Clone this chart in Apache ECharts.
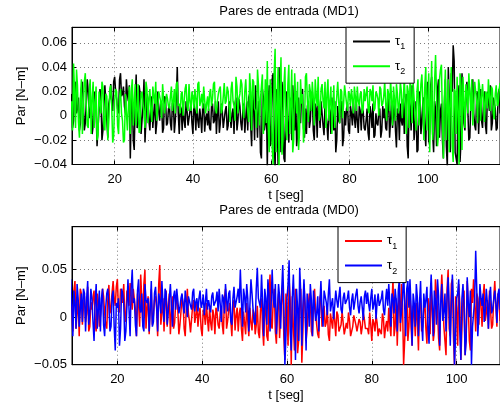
<!DOCTYPE html>
<html><head><meta charset="utf-8">
<script src="https://cdn.jsdelivr.net/npm/echarts@6/dist/echarts.min.js"></script>
<style>html,body{margin:0;padding:0;background:#fff}#c{width:500px;height:406px}</style>
</head><body><div id="c"></div>
<script>
// sampling grid of the recorded signals (seconds): samples "A" at t0 + i*dt, samples "B" half a step later
const t0 = 9, dt = 0.5;

// tick labels
const xTickValues = [20, 40, 60, 80, 100];
const yTicksMD1 = [-0.04, -0.02, 0, 0.02, 0.04, 0.06];
const yTicksMD0 = [-0.05, 0, 0.05];

// MD1 : tau1 (black)
const tau1MD1A = [
.018,-.004,.028,.006,-.012,.022,.01,-.006,.03,-.002,
.012,-.008,.02,-.025,.004,.016,-.012,.025,-.004,.01,
.026,.004,.032,.014,.002,.035,.018,.008,.03,.012,
-.035,.022,-.028,.034,-.006,.018,-.016,.03,-.002,.014,
-.012,.016,.002,-.015,.02,-.004,.01,-.01,.014,-.006,
.008,-.012,.012,-.004,.04,-.015,.006,.01,-.01,.004,
-.008,.01,-.015,.004,.012,-.01,-.002,.008,-.013,.002,
.006,-.012,.01,-.004,-.015,.012,-.006,.004,-.01,.008,
-.008,.012,.002,-.015,.015,-.004,.008,-.012,.01,-.002,
-.012,.018,-.025,.008,.025,-.018,.01,-.035,.015,-.006,
-.042,.025,-.02,.035,-.045,.01,.04,-.03,.018,-.038,
.02,-.022,.008,.025,-.012,-.025,.015,-.006,.022,-.018,
-.015,.012,-.004,.02,-.02,.006,.015,-.01,.002,-.016,
.01,-.02,.004,.015,-.012,-.03,.008,-.006,.012,-.018,
-.008,.01,-.015,.002,.012,-.01,-.004,.008,-.012,.004,
-.012,.006,-.02,.002,.01,-.016,-.006,.004,-.018,.008,
.006,-.012,.015,-.004,-.01,.012,-.026,.004,.01,-.008,
-.015,.018,-.035,.008,.025,-.02,.012,-.028,.02,-.006,
.015,-.025,.028,-.01,.032,-.03,.005,.022,-.018,.01,
-.035,.03,-.042,.015,.035,.058,-.03,-.04,.025,-.02,
.02,-.012,.028,-.02,.01,.03,-.008,.018,-.015,.022,
-.01,.02,-.015,.012,.025,-.006,.015,-.012,.018,.002
];
const tau1MD1B = [
-.01,.024,.002,.015,-.006,.028,-.012,.012,.02,.004,
-.015,.018,.006,-.01,.022,-.02,.008,.012,-.018,.015,
.01,.028,.02,.006,.03,.016,.024,.002,.018,.025,
.005,-.02,.012,-.01,.025,-.015,.008,-.022,.018,-.004,
.008,-.01,.014,-.006,.004,.012,-.014,.016,-.008,.006,
-.006,.01,-.014,.014,.002,.008,-.012,-.004,.012,-.008,
.004,-.006,.01,-.012,-.004,.006,-.014,.01,-.002,-.008,
-.01,.008,-.006,.012,.002,-.014,.01,-.01,.004,-.012,
.012,-.01,.006,.01,-.012,.014,-.006,.004,-.014,.012,
.015,-.008,.02,-.02,.004,.012,-.03,.022,-.012,.018,
.012,-.025,.03,-.015,.022,-.04,.005,.028,-.035,.015,
-.008,.015,-.02,.01,.02,-.015,-.002,.018,-.01,.006,
.008,-.01,.016,-.012,.01,-.018,.004,.012,-.008,.01,
-.008,.008,-.015,-.002,.012,-.02,-.004,.01,-.025,.004,
.006,-.012,.008,-.008,-.002,.01,-.014,.004,.006,-.01,
-.004,-.014,.008,-.01,-.018,.002,-.008,.006,-.012,-.002,
-.01,.008,-.018,.012,.002,-.012,.006,-.02,-.004,.014,
.01,-.025,.015,-.012,.02,-.008,-.03,.018,-.015,.012,
-.012,.018,-.022,.025,-.015,.012,-.025,.03,.004,-.02,
.01,-.025,.04,-.03,.02,.045,-.035,.015,-.038,.035,
-.006,.015,.004,-.018,.025,.002,-.012,.02,.008,-.004,
.012,-.008,.02,.004,-.012,.015,.006,-.01,.022,.008
];
// MD1 : tau2 (green)
const tau2MD1A = [
.012,.043,-.01,.025,-.018,.03,.005,.035,-.008,.02,
-.015,.028,.008,-.02,.02,.002,.024,-.012,.016,-.005,
.025,-.022,.012,.02,-.015,.022,-.004,-.02,.018,.006,
-.015,.03,.01,-.008,.026,-.012,.02,.002,.028,-.006,
.022,-.005,.016,.028,.004,.02,-.002,.026,.01,.014,
.006,.024,.012,.002,.028,.01,.018,0,.022,.008,
.026,.004,.016,.022,.002,.028,.012,.006,.024,.01,
.004,.022,.014,.028,.002,.018,.024,.006,.027,.012,
.02,-.005,.028,.008,.032,.002,.018,.026,-.002,.03,
.012,.035,-.012,.028,.004,.038,-.008,.024,-.015,.03,
.045,-.03,.02,-.04,.055,.005,-.042,.048,-.02,.04,
-.02,.042,.01,-.03,.035,.002,-.028,.03,.018,-.01,
.035,-.005,.02,.028,-.008,.016,.032,0,.026,.006,
-.01,.03,.012,-.015,.025,.004,.028,-.006,.02,.01,
.025,.004,.018,.022,.002,.016,.024,.008,.02,.006,
.012,.024,.002,.02,.025,.006,.018,0,.022,.01,
.028,-.004,.018,.03,-.008,.014,.026,.002,.028,-.002,
.032,-.015,.02,.035,-.006,.028,-.012,.03,.004,.034,
-.02,.04,.012,-.03,.045,-.008,.05,-.025,.03,.042,
-.035,.038,.005,-.03,.04,-.038,.02,.032,-.04,.025,
.032,-.01,.02,.035,.004,-.008,.028,.012,.03,-.004,
.026,-.005,.018,.03,.004,.022,-.003,.025,.01,.027
];
const tau2MD1B = [
-.012,.02,.038,-.005,.015,-.015,.028,.008,-.01,.03,
.015,-.01,.024,-.016,.01,.028,-.008,.018,-.02,.022,
.008,-.016,.022,-.008,.015,.002,-.022,.018,-.012,.024,
.02,-.008,.026,.004,-.014,.018,.01,-.01,.022,.014,
.004,.024,.01,-.004,.02,.012,.026,.002,.018,.008,
.016,.004,.022,.026,.008,.002,.02,.012,.026,.004,
.012,.02,.006,.014,.026,.008,.018,.024,.002,.016,
.018,.008,.026,.006,.012,.022,.002,.016,.01,.024,
.008,.022,.012,-.004,.024,.014,.03,.006,.02,.012,
-.005,.02,.03,.006,-.01,.025,.014,.034,.002,-.006,
-.01,.03,-.025,.035,-.03,.04,.02,-.032,.025,-.012,
.025,-.015,.038,-.02,.015,.028,-.012,.01,-.022,.032,
.012,.026,.004,.015,.03,.008,-.004,.022,.012,.028,
.018,-.004,.024,.008,-.01,.016,.012,.022,-.002,.025,
.01,.02,.008,.014,.024,.004,.012,.018,.002,.022,
.018,.006,.022,.012,.004,.02,.014,.024,.008,.016,
.01,.022,.004,.014,.024,-.004,.018,.01,.02,.012,
.01,.025,-.01,.016,.028,.002,.02,-.008,.026,.012,
.025,-.012,.035,.008,-.02,.028,.015,-.015,.038,-.005,
.015,-.02,.03,.01,-.025,.022,-.015,.005,.035,-.028,
.012,.026,.002,.018,.03,.008,.02,-.006,.024,.015,
.012,.02,.006,.016,.024,.002,.018,.008,.022,.014
];
// MD0 : tau1 (red)
const tau1MD0A = [
.02,-.015,.038,.005,-.02,.025,.012,-.005,.032,-.01,
.008,.028,-.015,.016,-.01,.03,.004,-.012,.034,.01,
.038,.012,.04,.005,.025,.035,-.005,.02,.036,.008,
.028,-.02,.015,.045,-.008,.05,.01,-.018,.03,.002,
.022,-.02,.055,.005,-.015,.028,.012,-.018,.022,-.006,
.02,-.018,.006,.015,-.02,.03,-.004,-.015,.018,.002,
-.01,.01,-.02,.004,.015,-.015,-.006,.008,-.018,.005,
-.012,.012,-.018,.03,-.004,.015,-.02,.018,.002,-.015,
.01,-.025,.004,.015,-.02,-.006,.008,-.018,.012,-.022,
.02,-.03,.006,-.025,.045,-.012,.03,-.028,.025,.002,
.035,-.045,.012,.04,-.05,-.01,.03,-.038,.02,-.048,
.035,-.025,.01,.02,-.02,.03,-.008,-.022,.025,.004,
-.01,.01,-.025,-.004,.008,-.02,.002,-.015,.006,-.018,
-.006,.005,-.02,-.01,.003,-.015,-.002,-.018,.004,-.012,
-.012,.005,-.025,-.006,.002,-.02,-.01,.004,-.022,-.004,
.01,-.02,.04,-.01,-.03,.025,.035,-.05,.008,-.025,
.025,-.03,.004,.015,-.035,.02,-.01,.018,-.028,.012,
.03,-.025,.04,.006,-.035,.045,-.01,-.04,.05,-.02,
.04,-.05,.01,.035,-.045,.02,-.04,.038,-.025,.03,
.04,-.015,.02,.03,-.01,.035,.004,-.012,.028,-.008,
.038,-.01,.02,.03
];
const tau1MD0B = [
.01,.028,-.012,.018,.03,-.008,.022,.004,-.015,.016,
.02,-.006,.025,-.01,.012,.022,-.008,.018,.004,.026,
.02,.032,.008,.03,.015,.002,.028,.012,.022,.03,
.008,.025,-.01,.02,.035,-.012,.022,.015,-.008,.018,
.01,.035,-.008,.02,.015,-.01,.025,.005,-.012,.015,
.008,-.008,.022,-.012,.01,.004,-.016,.012,-.006,.015,
.004,-.012,.008,-.008,-.002,.01,-.014,.002,.01,-.008,
.004,-.008,.02,-.012,.008,-.004,.012,-.014,.01,.004,
-.012,.006,-.018,-.004,.01,-.014,.004,-.008,-.016,.008,
-.012,.015,-.02,.022,-.008,.018,-.015,.012,-.022,.02,
-.02,.025,-.03,.018,.022,-.035,.015,-.025,.03,-.015,
.015,-.012,.025,-.015,.012,.004,-.018,.02,-.01,.012,
-.006,-.018,.004,-.012,-.004,.006,-.015,-.008,.004,-.012,
-.012,-.004,-.015,.002,-.008,-.016,-.005,-.01,-.002,-.014,
-.018,-.008,-.002,-.015,-.006,-.012,-.018,-.002,-.01,-.015,
-.008,.015,-.02,.02,.01,-.015,.012,-.025,.03,-.01,
-.01,.012,-.02,-.004,.015,-.015,.008,-.012,.02,-.018,
.008,-.015,.025,-.022,.015,.02,-.025,.03,-.012,.035,
-.02,.022,-.03,.015,-.012,.028,-.02,.012,-.035,.015,
.015,.025,-.008,.012,.022,-.004,.018,.028,-.012,.02,
.012,.025,-.004,.018
];
// MD0 : tau2 (blue)
const tau2MD0A = [
.04,-.02,.015,.035,-.01,.025,.03,-.015,.038,.005,
.02,-.025,.035,.008,-.015,.03,-.02,.025,.012,-.01,
.028,-.035,.01,-.03,.03,.015,-.015,.04,-.02,.05,
.02,-.02,.04,.005,-.01,.035,.015,-.015,.038,-.005,
.032,-.015,.018,.038,-.005,.025,.006,.035,-.01,.028,
.03,.004,.02,.012,.028,0,.024,.008,.03,.016,
.006,.028,.014,.002,.03,.018,.005,.026,.01,.027,
.03,-.005,.02,.035,.006,.028,-.008,.032,.012,.03,
.05,-.01,.022,.035,-.015,.04,.008,-.008,.052,.015,
.045,-.02,.02,.04,-.015,.05,.01,-.018,.035,-.012,
.055,-.05,.02,.06,-.035,.045,-.045,.01,.052,-.03,
.04,-.035,.015,.035,-.02,.03,.004,-.015,.038,-.01,
.03,.002,.04,.014,-.002,.028,.01,.032,.004,.026,
.012,.028,.002,.025,.016,.03,.004,.022,-.003,.028,
.026,.006,.03,.014,-.002,.025,.01,.028,.002,.03,
.035,-.01,.02,.03,-.015,.04,.005,.05,-.02,.038,
.04,-.03,.015,.035,-.02,.038,-.025,.01,.032,-.028,
.045,-.02,.018,.04,-.03,.035,.005,-.015,.042,-.03,
.045,-.05,.02,.04,-.045,.035,-.04,.042,0,-.05,
-.01,.07,-.02,.035,.012,-.005,.03,-.012,.032,.008,
.028,-.006,.03,.015
];
const tau2MD0B = [
.012,.028,-.012,.02,.008,-.005,.025,.018,-.008,.03,
-.005,.015,-.012,.028,.02,-.008,.01,.03,-.015,.022,
-.01,.015,.02,-.012,.025,-.025,.012,.008,.03,.015,
-.008,.028,.01,.025,-.015,.018,.02,.008,-.01,.025,
.012,.025,.004,.015,.03,-.008,.02,.012,.022,.008,
.018,.01,.025,.004,.016,.022,.012,.026,.006,.02,
.02,.01,.024,.016,.008,.02,.022,.012,.018,.006,
.014,.024,.004,.018,.025,-.004,.02,.01,.022,.015,
.018,.03,.005,.02,.012,.025,-.005,.03,.02,.01,
.015,.03,-.008,.025,.012,.02,.035,.004,.022,.028,
.015,-.02,.035,-.015,.02,.01,.03,-.025,.025,.012,
.012,.025,-.01,.018,.028,-.004,.022,.014,.008,.028,
.016,.024,.006,.02,.012,.018,.022,.008,.02,.014,
.02,.01,.018,.008,.024,.012,.016,.01,.022,.014,
.014,.02,.008,.024,.016,.012,.02,.008,.018,.012,
.015,.025,.004,.018,.028,-.006,.02,.012,.03,.01,
.012,.025,-.01,.02,.015,-.005,.025,.018,-.012,.02,
.015,.028,-.008,.022,.015,-.004,.025,.02,.01,.015,
.012,-.02,.025,-.015,.02,.01,-.025,.015,.028,-.01,
.018,.03,.004,.02,.025,.008,.015,.022,.004,.018,
.016,.024,.008,.02
];

const FONT = '"Liberation Sans", Arial, Helvetica, sans-serif';
const pts = (a, b) => a.flatMap((v, i) => [[t0 + i * dt, v], [t0 + i * dt + dt / 2, b[i]]]);
const near = (list, v) => list.some(t => Math.abs(t - v) < 1e-7);
const fmtY = v => v === 0 ? '0' : (v < 0 ? '\u2212' : '') + Math.abs(v).toFixed(2);

const axisLine = { show: true, onZero: false, lineStyle: { color: '#000', width: 1 } };
const axisTick = { show: true, inside: true, length: 4, lineStyle: { color: '#000' } };
const splitLine = { show: true, lineStyle: { color: '#7a7a7a', width: 1, type: [1, 3] } };
const labelStyle = { color: '#000', fontSize: 13, fontFamily: FONT };
const LW = 1.5;

function xBottom(gridIndex, min, max) {
  return {
    type: 'value', gridIndex, min, max, splitNumber: 5, position: 'bottom',
    name: 't [seg]', nameLocation: 'middle', nameGap: 24, nameMoveOverlap: false,
    nameTextStyle: { color: '#000', fontSize: 13, fontFamily: FONT },
    axisLine, axisTick, splitLine,
    axisLabel: Object.assign({ margin: 8, showMinLabel: false, showMaxLabel: false,
      formatter: v => near(xTickValues, v) ? String(Math.round(v)) : '' }, labelStyle)
  };
}
function xTop(gridIndex, min, max) {
  return { type: 'value', gridIndex, min, max, splitNumber: 5, position: 'top',
    axisLine, axisTick, splitLine: { show: false }, axisLabel: { show: false } };
}
function yLeft(gridIndex, min, max, interval, ticks) {
  return {
    type: 'value', gridIndex, min, max, interval,
    name: 'Par [N\u2013m]', nameLocation: 'middle', nameGap: 44, nameRotate: 90, nameMoveOverlap: false,
    nameTextStyle: { color: '#000', fontSize: 13, fontFamily: FONT },
    axisLine, axisTick, splitLine,
    axisLabel: Object.assign({ margin: 5, showMaxLabel: false,
      formatter: v => near(ticks, v) ? fmtY(v) : '' }, labelStyle)
  };
}
function legendCfg(names, left, top) {
  return {
    data: names, orient: 'vertical', left, top,
    padding: [7.7, 9, 7, 7], itemGap: 8.2, itemWidth: 37, itemHeight: 2, icon: 'rect',
    backgroundColor: '#fff', borderColor: '#000', borderWidth: 1, borderRadius: 0,
    selectedMode: false,
    formatter: n => '{t|\u03c4}{s|' + n.slice(-1) + '}',
    textStyle: { color: '#000', fontFamily: FONT,
      rich: { t: { fontSize: 13, lineHeight: 20, fontFamily: FONT, color: '#000' },
              s: { fontSize: 9, lineHeight: 9, verticalAlign: 'bottom', fontFamily: FONT, color: '#000' } } }
  };
}
function lineSeries(name, xi, yi, a, b, color) {
  return { name, type: 'line', xAxisIndex: xi, yAxisIndex: yi, data: pts(a, b),
    symbol: 'none', showSymbol: false, clip: true, silent: true,
    lineStyle: { width: LW, color }, itemStyle: { color } };
}

const chart = echarts.init(document.getElementById('c'), null, { renderer: 'canvas' });
chart.setOption({
  animation: false,
  backgroundColor: '#fff',
  textStyle: { fontFamily: FONT },
  title: [
    { text: 'Pares de entrada (MD1)', left: 289, top: 5, textAlign: 'center', padding: 0,
      textStyle: { fontSize: 13, fontWeight: 'normal', color: '#000', fontFamily: FONT } },
    { text: 'Pares de entrada (MD0)', left: 289, top: 204, textAlign: 'center', padding: 0,
      textStyle: { fontSize: 13, fontWeight: 'normal', color: '#000', fontFamily: FONT } }
  ],
  grid: [
    { left: 72, top: 27.3, width: 434, height: 137.2, show: true, borderColor: '#000', borderWidth: 1, containLabel: false },
    { left: 72, top: 226.7, width: 434, height: 138, show: true, borderColor: '#000', borderWidth: 1, containLabel: false }
  ],
  xAxis: [ xBottom(0, 9.1, 118.46), xTop(0, 9.1, 118.46), xBottom(1, 9.3, 110.23), xTop(1, 9.3, 110.23) ],
  yAxis: [ yLeft(0, -0.04, 0.0727, 0.02, yTicksMD1), yLeft(1, -0.05, 0.0953, 0.05, yTicksMD0) ],
  legend: [ legendCfg(['MD1 \u03c41', 'MD1 \u03c42'], 346, 27.3), legendCfg(['MD0 \u03c41', 'MD0 \u03c42'], 338, 226.7) ],
  series: [
    lineSeries('MD1 \u03c41', 0, 0, tau1MD1A, tau1MD1B, '#000000'),
    lineSeries('MD1 \u03c42', 0, 0, tau2MD1A, tau2MD1B, '#00ff00'),
    lineSeries('MD0 \u03c41', 2, 1, tau1MD0A, tau1MD0B, '#ff0000'),
    lineSeries('MD0 \u03c42', 2, 1, tau2MD0A, tau2MD0B, '#0000ff')
  ]
});
</script></body></html>
